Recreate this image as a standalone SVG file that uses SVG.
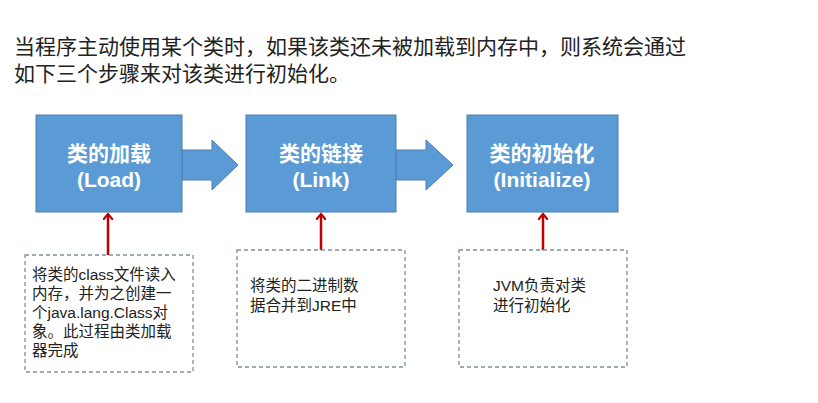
<svg xmlns="http://www.w3.org/2000/svg" width="818" height="403" viewBox="0 0 818 403">
<style>
.t{font-family:"Liberation Sans","Noto Sans CJK SC",sans-serif;}
.title{font-size:21px;fill:#222;}
.box{fill:#5b9bd5;stroke:#4a7fb0;stroke-width:1;}
.bt{font-size:21px;fill:#fff;font-weight:bold;text-anchor:middle;}
.dash{fill:#fff;stroke:#7f8fa0;stroke-width:1.3;stroke-dasharray:4,3;}
.nt{font-size:15.5px;fill:#222;}
.red{stroke:#c00000;stroke-width:2.5;fill:none;}
</style>
<defs>
<marker id="ah" markerWidth="10" markerHeight="10" refX="5" refY="5" orient="auto" markerUnits="userSpaceOnUse">
<path d="M0,0 L6,5 L0,10" fill="none" stroke="#c00000" stroke-width="2.2"/>
</marker>
</defs>
<rect width="818" height="403" fill="#fff"/>
<text class="t title" x="14" y="54">当程序主动使用某个类时，如果该类还未被加载到内存中，则系统会通过</text>
<text class="t title" x="14" y="81">如下三个步骤来对该类进行初始化。</text>
<g id="connectors">
<path class="box" d="M182,150 L212,150 L212,140 L238,165 L212,190 L212,180 L182,180 Z"/>
<path class="box" d="M396,150 L426,150 L426,140 L453,165 L426,190 L426,180 L396,180 Z"/>
<line class="red" x1="108" y1="255" x2="108" y2="215" marker-end="url(#ah)"/>
<line class="red" x1="321" y1="250" x2="321" y2="215" marker-end="url(#ah)"/>
<line class="red" x1="543" y1="250" x2="543" y2="215" marker-end="url(#ah)"/>
</g>
<g id="load">
<rect class="box" x="36" y="115" width="146" height="97"/>
<text class="t bt" x="109" y="161">类的加载</text>
<text class="t bt" x="109" y="187">(Load)</text>
</g>
<g id="link">
<rect class="box" x="246" y="115" width="150" height="97"/>
<text class="t bt" x="321" y="161">类的链接</text>
<text class="t bt" x="321" y="187">(Link)</text>
</g>
<g id="init">
<rect class="box" x="467" y="115" width="151" height="97"/>
<text class="t bt" x="542" y="161">类的初始化</text>
<text class="t bt" x="542" y="187">(Initialize)</text>
</g>
<g id="note1">
<rect class="dash" x="25" y="255" width="168" height="117"/>
<text class="t nt" x="32" y="280">将类的class文件读入</text>
<text class="t nt" x="32" y="299">内存，并为之创建一</text>
<text class="t nt" x="32" y="318">个java.lang.Class对</text>
<text class="t nt" x="32" y="337">象。此过程由类加载</text>
<text class="t nt" x="32" y="356">器完成</text>
</g>
<g id="note2">
<rect class="dash" x="237" y="250" width="168" height="117"/>
<text class="t nt" x="250" y="291">将类的二进制数</text>
<text class="t nt" x="250" y="311">据合并到JRE中</text>
</g>
<g id="note3">
<rect class="dash" x="459" y="250" width="168" height="117"/>
<text class="t nt" x="493" y="291">JVM负责对类</text>
<text class="t nt" x="493" y="311">进行初始化</text>
</g>
</svg>
